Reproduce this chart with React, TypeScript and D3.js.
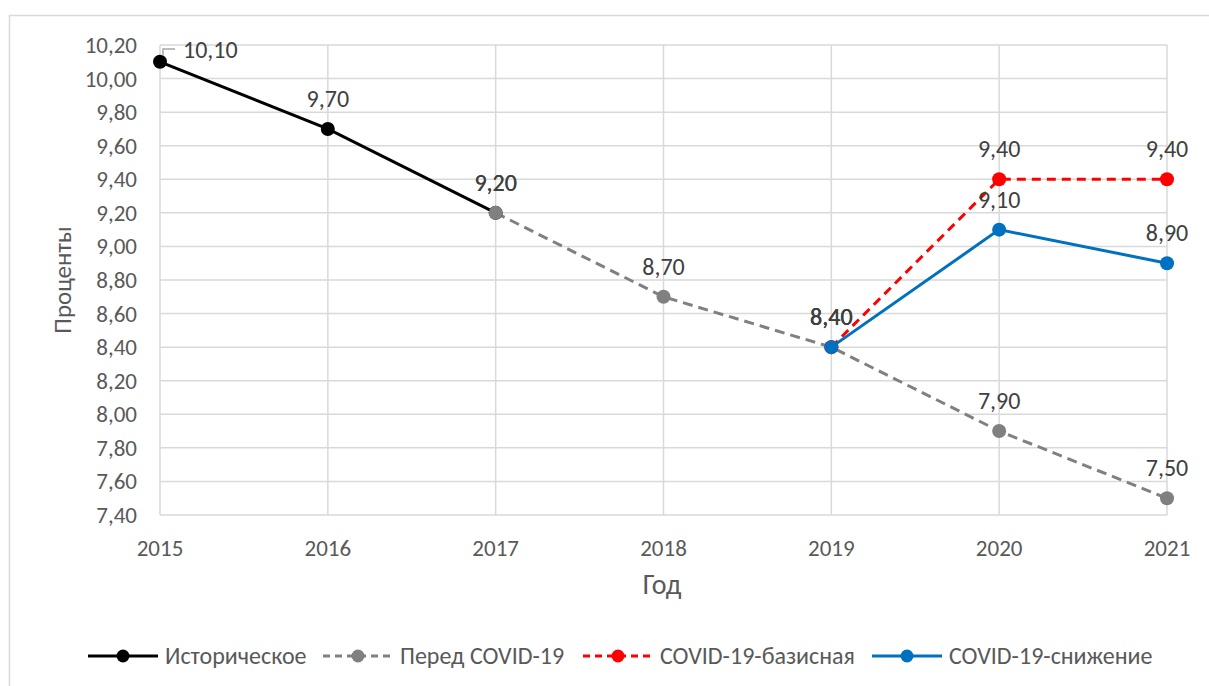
import * as d3 from 'd3'

const years = [2015, 2016, 2017, 2018, 2019, 2020, 2021]
const yTicks = [7.4, 7.6, 7.8, 8.0, 8.2, 8.4, 8.6, 8.8, 9.0, 9.2, 9.4, 9.6, 9.8, 10.0, 10.2]

const historical = [
  { year: 2015, value: 10.1 },
  { year: 2016, value: 9.7 },
  { year: 2017, value: 9.2 },
]
const preCovid = [
  { year: 2017, value: 9.2 },
  { year: 2018, value: 8.7 },
  { year: 2019, value: 8.4 },
  { year: 2020, value: 7.9 },
  { year: 2021, value: 7.5 },
]
const covidBase = [
  { year: 2019, value: 8.4 },
  { year: 2020, value: 9.4 },
  { year: 2021, value: 9.4 },
]
const covidDecline = [
  { year: 2019, value: 8.4 },
  { year: 2020, value: 9.1 },
  { year: 2021, value: 8.9 },
]

const seriesNames = ['Историческое', 'Перед COVID-19', 'COVID-19-базисная', 'COVID-19-снижение']
const seriesColors = ['#000000', '#808080', '#ff0000', '#0070c0']
const seriesDashes = [null, '10,6', '9,6', null]
const seriesData = [historical, preCovid, covidBase, covidDecline]

const W = 1209
const H = 686
const font = 'Carlito, Calibri, "Open Sans", sans-serif'
const fmt = (v: number) => v.toFixed(2).replace('.', ',')

export default function App() {
  const x = d3.scalePoint<number>().domain(years).range([160, 1167])
  const y = d3.scaleLinear().domain([7.4, 10.2]).range([515, 45])
  const line = d3.line<{ year: number; value: number }>()
    .x(d => x(d.year)!)
    .y(d => y(d.value))

  const legendX = [88, 323, 583, 872]
  const x0 = x(2015)!

  return (
    <svg width={W} height={H} style={{ position: 'absolute', left: 0, top: 0, background: '#fff' }}>
      <rect x={9.5} y={15.5} width={1210} height={700} fill="#fff" stroke="#d9d9d9" strokeWidth={1.5} />
      {/* grid */}
      {yTicks.map(t => (
        <line key={'h' + t} x1={160} x2={1167} y1={y(t)} y2={y(t)} stroke="#d9d9d9" strokeWidth={1.5} />
      ))}
      {years.map(yr => (
        <line key={'v' + yr} x1={x(yr)} x2={x(yr)} y1={45} y2={515} stroke="#d9d9d9" strokeWidth={1.5} />
      ))}
      {/* axis labels */}
      {yTicks.map(t => (
        <text key={'yt' + t} x={137} y={y(t) + 8} textAnchor="end" fontFamily={font} fontSize={23} fill="#595959">
          {fmt(t)}
        </text>
      ))}
      {years.map(yr => (
        <text key={'xt' + yr} x={x(yr)} y={556} textAnchor="middle" fontFamily={font} fontSize={23} fill="#595959">
          {yr}
        </text>
      ))}
      <text x={662} y={594} textAnchor="middle" fontFamily={font} fontSize={28} fill="#595959">Год</text>
      <text transform="translate(71,280) rotate(-90)" textAnchor="middle" fontFamily={font} fontSize={25} fill="#595959">
        Проценты
      </text>
      {/* lines */}
      {seriesData.map((s, i) => (
        <path key={'l' + i} d={line(s)!} fill="none" stroke={seriesColors[i]} strokeWidth={3}
          strokeDasharray={seriesDashes[i] ?? undefined} />
      ))}
      {seriesData.map((s, i) => (
        <g key={'m' + i}>
          {s.map(d => (
            <circle key={d.year} cx={x(d.year)} cy={y(d.value)} r={7} fill={seriesColors[i]} />
          ))}
        </g>
      ))}
      {/* data labels */}
      <path d={`M${x0 + 3},${y(10.1) - 6} V${y(10.2) + 4} H${x0 + 15}`} fill="none" stroke="#a6a6a6" strokeWidth={1.5} />
      {seriesData.map((s, i) => (
        <g key={'dl' + i}>
          {s.map(d => {
            const lead = i === 0 && d.year === 2015
            return (
              <text key={d.year} x={lead ? x0 + 23 : x(d.year)} y={lead ? y(d.value) - 4 : y(d.value) - 22}
                textAnchor={lead ? 'start' : 'middle'} fontFamily={font} fontSize={24} fill="#404040">
                {fmt(d.value)}
              </text>
            )
          })}
        </g>
      ))}
      {/* legend */}
      {seriesNames.map((name, i) => (
        <g key={'lg' + i} transform={`translate(${legendX[i]},656)`}>
          <line x1={0} x2={70} y1={0} y2={0} stroke={seriesColors[i]} strokeWidth={3}
            strokeDasharray={seriesDashes[i] ? '7,5' : undefined} />
          <circle cx={35} cy={0} r={6.5} fill={seriesColors[i]} />
          <text x={77} y={8} fontFamily={font} fontSize={24} fill="#595959">{name}</text>
        </g>
      ))}
    </svg>
  )
}
